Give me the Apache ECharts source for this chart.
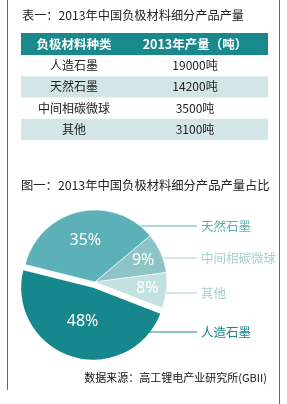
<!DOCTYPE html>
<html>
<head>
<meta charset="utf-8">
<script src="https://cdn.jsdelivr.net/npm/echarts@6/dist/echarts.min.js"></script>
<style>
  html, body { margin: 0; padding: 0; background: #fff; }
  #main { width: 287px; height: 404px; }
</style>
</head>
<body>
<div id="main"></div>
<script>
// table data
const tableHeader = ['负极材料种类', '2013年产量（吨）'];
const tableTypes = ['人造石墨', '天然石墨', '中间相碳微球', '其他'];
const tableOutput = [19000, 14200, 3500, 3100];

// pie data (clockwise from the left edge)
const pieNames = ['天然石墨', '中间相碳微球', '其他', '人造石墨'];
const piePercent = [35, 9, 8, 48];
const pieColors = ['#5cb1b8', '#8dc4c7', '#c4e1e2', '#16878c'];
const nameColors = ['#5cb1b8', '#a6d1d3', '#a2cdcf', '#16878c'];

const TEAL = '#1a898d';
const FONT = '"Noto Sans CJK SC", "Noto Sans", sans-serif';

// pie geometry
const CX = 95, CY = 282, R = 72;
const START = 166;
const PULLED = 3;      // index of the slice that is pulled out
const PULL = 6;
const labelY = [226, 258, 293, 332];
const LABEL_X = 201, LINE_END = 197;
const insideScale = [1.1, 1.35, 1.35, 0.9];

const total = piePercent.reduce((a, b) => a + b, 0);
const midAngles = [];
let acc = 0;
piePercent.forEach(v => {
  midAngles.push((START - (acc + v / 2) / total * 360) * Math.PI / 180);
  acc += v;
});
const pullCenter = [
  CX + Math.cos(midAngles[PULLED]) * PULL,
  CY - Math.sin(midAngles[PULLED]) * PULL
];
function sliceCenter(i) {
  return i === PULLED ? pullCenter : [CX, CY];
}

const chart = echarts.init(document.getElementById('main'), null, { renderer: 'canvas' });

const graphics = [];
// frame lines
graphics.push({ type: 'line', shape: { x1: 7.5, y1: 0, x2: 7.5, y2: 390 }, style: { stroke: TEAL, lineWidth: 1 } });
graphics.push({ type: 'line', shape: { x1: 279.5, y1: 0, x2: 279.5, y2: 404 }, style: { stroke: TEAL, lineWidth: 1 } });

// titles
graphics.push({ type: 'text', x: 22, y: 15, style: { text: '表一：2013年中国负极材料细分产品产量', font: '12.2px ' + FONT, fill: '#222', verticalAlign: 'middle' } });
graphics.push({ type: 'text', x: 21, y: 185, style: { text: '图一：2013年中国负极材料细分产品产量占比', font: '12.3px ' + FONT, fill: '#222', verticalAlign: 'middle' } });

// table
const T_LEFT = 21, T_W = 247, H_TOP = 33, H_H = 22, ROW_H = 21.25;
const colX = [74, 195];
graphics.push({ type: 'rect', shape: { x: T_LEFT, y: H_TOP, width: T_W, height: H_H }, style: { fill: TEAL } });
tableHeader.forEach((t, j) => {
  graphics.push({ type: 'text', x: colX[j], y: H_TOP + H_H / 2, style: { text: t, font: 'bold 12.5px ' + FONT, fill: '#fff', align: 'center', verticalAlign: 'middle' } });
});
tableTypes.forEach((name, i) => {
  const y = H_TOP + H_H + i * ROW_H;
  if (i % 2 === 1) {
    graphics.push({ type: 'rect', shape: { x: T_LEFT, y: y, width: T_W, height: ROW_H }, style: { fill: '#d2e6e8' } });
  }
  graphics.push({ type: 'text', x: colX[0], y: y + ROW_H / 2, style: { text: name, font: '12px ' + FONT, fill: '#222', align: 'center', verticalAlign: 'middle' } });
  graphics.push({ type: 'text', x: colX[1], y: y + ROW_H / 2, style: { text: tableOutput[i] + '吨', font: '12px ' + FONT, fill: '#222', align: 'center', verticalAlign: 'middle' } });
});

// source
graphics.push({ type: 'text', x: 267, y: 378, style: { text: '数据来源：高工锂电产业研究所(GBII)', font: '11px ' + FONT, fill: '#111', align: 'right', verticalAlign: 'middle' } });

function insideLayout(p) {
  const c = sliceCenter(p.dataIndex);
  const r = p.labelRect;
  const lx = r.x + r.width / 2, ly = r.y + r.height / 2;
  const k = insideScale[p.dataIndex];
  return { x: c[0] + (lx - c[0]) * k, y: c[1] + (ly - c[1]) * k, align: 'center', verticalAlign: 'middle' };
}

const insideLabel = { show: true, position: 'inside', formatter: '{c}%', color: '#fff', fontSize: 16, fontFamily: '"Noto Sans", sans-serif' };

const option = {
  animation: false,
  graphic: graphics,
  series: [
    {
      // main pie, pulled slice hidden
      type: 'pie',
      center: [CX, CY],
      radius: R,
      startAngle: START,
      silent: true,
      avoidLabelOverlap: false,
      label: insideLabel,
      labelLine: { show: false },
      labelLayout: insideLayout,
      data: pieNames.map((n, i) => ({
        name: n,
        value: piePercent[i],
        itemStyle: i === PULLED
          ? { color: 'rgba(0,0,0,0)', borderWidth: 0 }
          : { color: pieColors[i], borderColor: '#fff', borderWidth: 0.6 },
        label: { show: i !== PULLED }
      }))
    },
    {
      // pulled slice on its own shifted centre
      type: 'pie',
      center: pullCenter,
      radius: R,
      startAngle: START,
      silent: true,
      avoidLabelOverlap: false,
      label: insideLabel,
      labelLine: { show: false },
      labelLayout: insideLayout,
      data: pieNames.map((n, i) => ({
        name: n,
        value: piePercent[i],
        itemStyle: i === PULLED ? { color: pieColors[i] } : { color: 'rgba(0,0,0,0)' },
        label: { show: i === PULLED }
      }))
    },
    {
      // name labels with horizontal leader lines
      type: 'pie',
      center: [CX, CY],
      radius: R,
      startAngle: START,
      silent: true,
      avoidLabelOverlap: false,
      itemStyle: { color: 'rgba(0,0,0,0)' },
      label: { show: true, position: 'outside', formatter: '{b}', fontSize: 12.5, fontFamily: FONT },
      labelLine: { show: true, length: 10, length2: 10, lineStyle: { width: 1 } },
      labelLayout: function (p) {
        const i = p.dataIndex;
        const y = labelY[i];
        const c = sliceCenter(i);
        const dy = y - c[1];
        const x0 = c[0] + Math.sqrt(Math.max(R * R - dy * dy, 0)) - 2;
        return {
          x: LABEL_X, y: y, align: 'left', verticalAlign: 'middle',
          labelLinePoints: [[x0, y], [LINE_END, y], [LINE_END, y]]
        };
      },
      data: pieNames.map((n, i) => ({
        name: n,
        value: piePercent[i],
        label: { color: nameColors[i] },
        labelLine: { lineStyle: { color: nameColors[i] } }
      }))
    }
  ]
};

chart.setOption(option);
</script>
</body>
</html>
